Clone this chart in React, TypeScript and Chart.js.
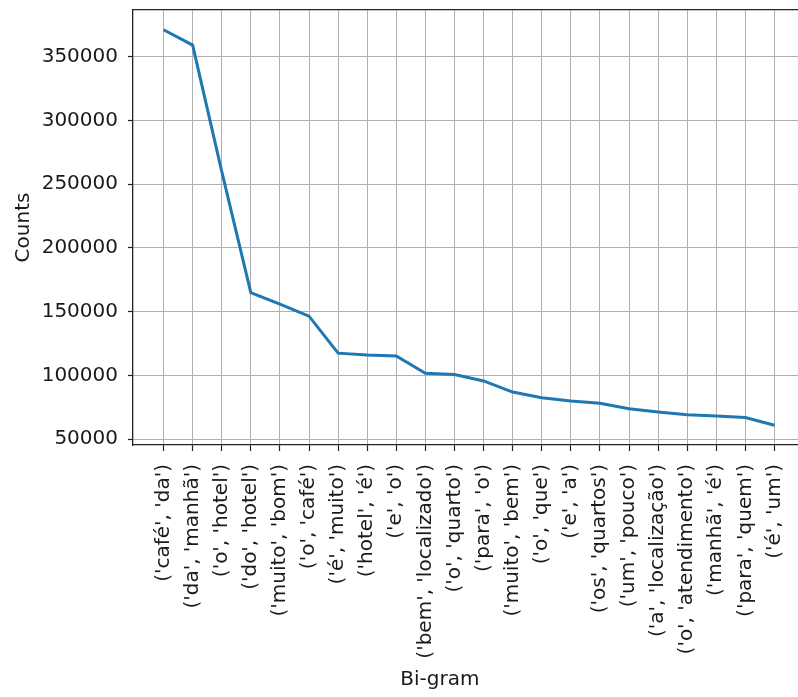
import React, { useEffect, useRef } from "react";
import { Chart, registerables } from "chart.js";

Chart.register(...registerables);

const categories: string[] = [
  "('café', 'da')",
  "('da', 'manhã')",
  "('o', 'hotel')",
  "('do', 'hotel')",
  "('muito', 'bom')",
  "('o', 'café')",
  "('é', 'muito')",
  "('hotel', 'é')",
  "('e', 'o')",
  "('bem', 'localizado')",
  "('o', 'quarto')",
  "('para', 'o')",
  "('muito', 'bem')",
  "('o', 'que')",
  "('e', 'a')",
  "('os', 'quartos')",
  "('um', 'pouco')",
  "('a', 'localização')",
  "('o', 'atendimento')",
  "('manhã', 'é')",
  "('para', 'quem')",
  "('é', 'um')",
];

const counts: number[] = [
  371000, 359000, 260000, 165000, 156000, 146500, 117500, 116000, 115300,
  101700, 100700, 95700, 87000, 82600, 80000, 78200, 74000, 71400, 69300,
  68300, 67000, 61000,
];

const yTickValues: number[] = [50000, 100000, 150000, 200000, 250000, 300000, 350000];

const xTitle = "Bi-gram";
const yTitle = "Counts";

const FONT = "'DejaVu Sans', sans-serif";
const TEXT = "#1a1a1a";
const GRID = "#b0b0b0";
const AXIS = "#222222";
const LINE = "#1f77b4";

export default function App() {
  const ref = useRef<HTMLCanvasElement | null>(null);

  useEffect(() => {
    if (!ref.current) return;
    const n = categories.length;
    const xMargin = (n - 1) * 0.05;
    const yMin = Math.min(...counts);
    const yMax = Math.max(...counts);
    const yPad = (yMax - yMin) * 0.05;

    const xLabelPlugin = {
      id: "xLabel",
      afterDraw(chart: any) {
        const ctx = chart.ctx;
        const xs = chart.scales.x;
        ctx.save();
        ctx.font = `20px ${FONT}`;
        ctx.fillStyle = TEXT;
        ctx.textAlign = "center";
        ctx.textBaseline = "middle";
        ctx.fillText(xTitle, xs.getPixelForValue((n - 1) * 0.4524), chart.height - 17);
        ctx.restore();
      },
    };

    const chart = new Chart(ref.current, {
      type: "line",
      data: {
        datasets: [
          {
            data: counts.map((v, i) => ({ x: i, y: v })),
            borderColor: LINE,
            borderWidth: 3,
            pointRadius: 0,
            fill: false,
            tension: 0,
          },
        ],
      },
      plugins: [xLabelPlugin],
      options: {
        animation: false,
        responsive: false,
        devicePixelRatio: 1,
        layout: { padding: { top: 10, left: 0, right: 15, bottom: 29 } },
        plugins: {
          legend: { display: false },
          tooltip: { enabled: false },
          title: { display: false },
        },
        scales: {
          x: {
            type: "linear",
            position: "bottom",
            min: -xMargin,
            max: n - 1 + xMargin,
            afterBuildTicks: (s: any) => {
              s.ticks = categories.map((_, i) => ({ value: i }));
            },
            afterFit: (s: any) => {
              s.height = 223;
              s.paddingLeft = 0;
              s.paddingRight = 0;
            },
            ticks: {
              autoSkip: false,
              minRotation: 90,
              maxRotation: 90,
              padding: 13,
              color: TEXT,
              font: { family: FONT, size: 20 },
              callback: (v: any) => categories[Math.round(Number(v))] ?? "",
            },
            grid: {
              color: GRID,
              lineWidth: 1,
              tickLength: 6,
              tickColor: AXIS,
              tickWidth: 1.2,
            },
            border: { display: true, color: AXIS, width: 1.3 },
          },
          x2: {
            type: "linear",
            position: "top",
            min: 0,
            max: 1,
            ticks: { display: false },
            grid: { display: false, drawTicks: false },
            border: { display: true, color: AXIS, width: 1.3 },
            afterFit: (s: any) => {
              s.height = 0;
            },
          },
          y: {
            type: "linear",
            min: yMin - yPad,
            max: yMax + yPad,
            afterBuildTicks: (s: any) => {
              s.ticks = yTickValues.map((v) => ({ value: v }));
            },
            afterFit: (s: any) => {
              s.width = 133;
              s.paddingTop = 0;
              s.paddingBottom = 0;
            },
            ticks: {
              padding: 10,
              color: TEXT,
              font: { family: FONT, size: 20 },
              callback: (v: any) => String(v),
            },
            grid: {
              color: GRID,
              lineWidth: 1,
              tickLength: 5,
              tickColor: AXIS,
              tickWidth: 1.2,
            },
            border: { display: true, color: AXIS, width: 1.3 },
            title: {
              display: true,
              text: yTitle,
              color: TEXT,
              font: { family: FONT, size: 20 },
              padding: { top: 12, bottom: 0 },
            },
          },
        },
      },
    } as any);
    return () => chart.destroy();
  }, []);

  return (
    <div
      style={{
        position: "fixed",
        left: 0,
        top: 0,
        width: 798,
        height: 697,
        overflow: "hidden",
        background: "#ffffff",
      }}
    >
      <canvas ref={ref} width={820} height={697} style={{ display: "block" }} />
    </div>
  );
}
